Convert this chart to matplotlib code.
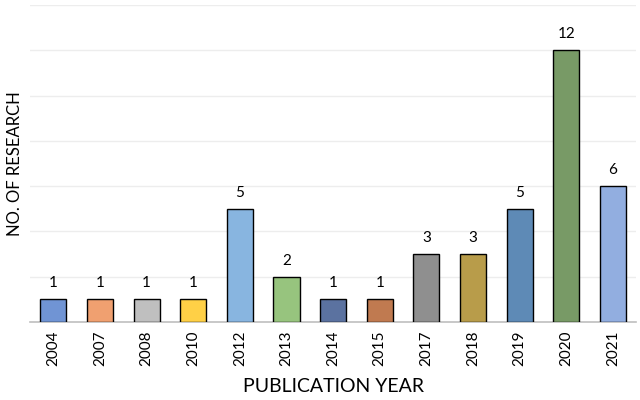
import matplotlib
matplotlib.use('Agg')
import matplotlib.pyplot as plt

years = ['2004', '2007', '2008', '2010', '2012', '2013', '2014',
         '2015', '2017', '2018', '2019', '2020', '2021']
counts = [1, 1, 1, 1, 5, 2, 1, 1, 3, 3, 5, 12, 6]
colors = ['#7094D4', '#F0A070', '#BFBFBF', '#FFD046', '#88B5E0', '#97C47E',
          '#5B72A0', '#C07A50', '#8F8F8F', '#B89C4A', '#5E8AB6', '#789A66',
          '#92AEE0']

plt.rcParams['font.family'] = ['Lato', 'DejaVu Sans']

fig = plt.figure(figsize=(6.4, 4.0), dpi=100)
ax = fig.add_axes([0.047, 0.195, 0.947, 0.7925])

x = range(len(years))
bars = ax.bar(x, counts, width=0.56, color=colors, edgecolor='black', linewidth=1.0, zorder=3)
for xi, c in zip(x, counts):
    ax.text(xi, c + 0.4, str(c), ha='center', va='bottom', fontsize=11)

ax.set_xlim(-0.5, len(years) - 0.5)
ax.set_ylim(0, 14)
ax.set_yticks(range(0, 15, 2))
ax.yaxis.grid(True, color='#EDEDED', linewidth=1.0, zorder=0)
ax.tick_params(axis='y', left=False, labelleft=False)
ax.tick_params(axis='x', length=0, pad=6)
ax.set_xticks(list(x))
ax.set_xticklabels(years, rotation=90, fontsize=11)

for s in ['top', 'right', 'left']:
    ax.spines[s].set_visible(False)
ax.spines['bottom'].set_color('#BFBFBF')
ax.spines['bottom'].set_linewidth(1.2)

ax.set_xlabel('PUBLICATION YEAR', fontsize=14, labelpad=9)
ax.set_ylabel('NO. OF RESEARCH', fontsize=12, labelpad=5)

fig.savefig('out.png', dpi=100)
